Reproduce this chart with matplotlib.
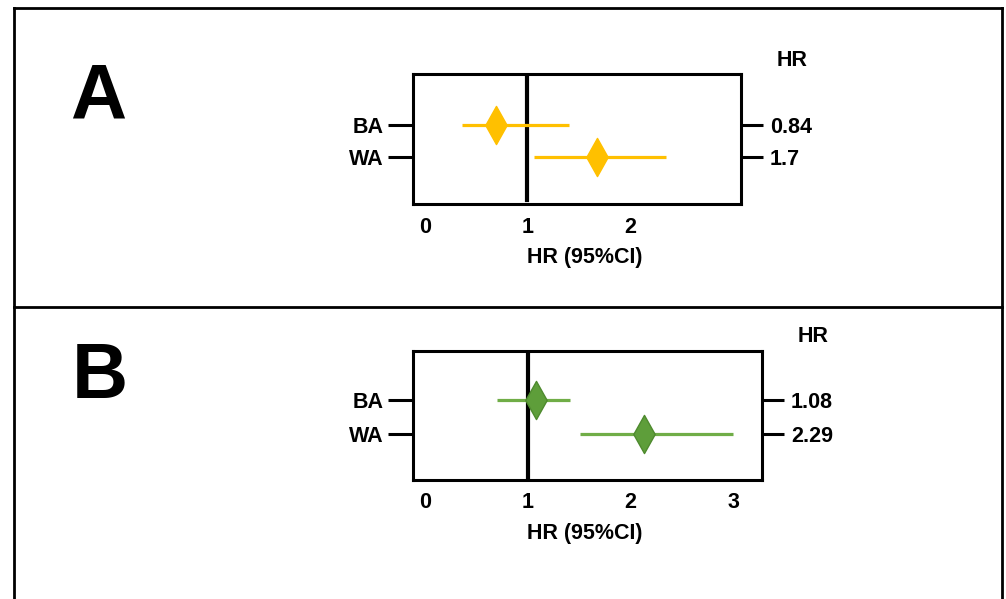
#Libraries importation:--------------------------------------------------------

import matplotlib
matplotlib.use("Agg")
import matplotlib.pyplot as plt
from matplotlib.lines import Line2D
from matplotlib.path import Path

#Data:-------------------------------------------------------------------------

groups = ["BA", "WA"]
x_ticks_a = [0, 1, 2]
x_ticks_b = [0, 1, 2, 3]

hr_a = [0.69, 1.68]
low_a = [0.36, 1.06]
high_a = [1.41, 2.35]
hr_text_a = ["0.84", "1.7"]

hr_b = [1.08, 2.13]
low_b = [0.70, 1.51]
high_b = [1.41, 3.00]
hr_text_b = ["1.08", "2.29"]

#Settings:---------------------------------------------------------------------

plt.rcParams["font.family"] = ["Liberation Sans", "DejaVu Sans"]
plt.rcParams["font.weight"] = "bold"

diamond = Path([(0, 1), (0.56, 0), (0, -1), (-0.56, 0), (0, 1)],
               [Path.MOVETO, Path.LINETO, Path.LINETO, Path.LINETO, Path.CLOSEPOLY])

fs = 15.5

#Function definition:----------------------------------------------------------

def forest_panel(fig, rect, xlim, ylim, xticks, hr, low, high, hr_text,
                 line_color, face_color, edge_color, ref_ymin, header_dy, label_x):

    ax = fig.add_axes(rect)
    y_pos = list(range(1, len(groups) + 1))

    ax.hlines(y_pos, low, high, color=line_color, linewidth=2.3, zorder=2)
    ax.plot(hr, y_pos, linestyle="none", marker=diamond, markersize=27.5,
            markerfacecolor=face_color, markeredgecolor=edge_color,
            markeredgewidth=1.0, zorder=3)
    ax.axvline(1, ymin=ref_ymin, ymax=1, color="black", linewidth=3, zorder=1)

    ax.set_xlim(xlim)
    ax.set_ylim(ylim)
    ax.set_xticks(xticks)
    ax.set_xticklabels([str(t) for t in xticks], fontsize=fs, fontweight="bold")
    ax.tick_params(axis="x", length=0, pad=9)
    ax.set_xlabel("HR (95%CI)", fontsize=fs, fontweight="bold", labelpad=6)
    ax.xaxis.set_label_coords(label_x, -0.33)

    ax.set_yticks(y_pos)
    ax.set_yticklabels(groups, fontsize=fs, fontweight="bold")
    ax.tick_params(axis="y", length=18, width=2.2, pad=3)

    for spine in ax.spines.values():
        spine.set_linewidth(2.2)

    ax_right = ax.twinx()
    ax_right.set_ylim(ylim)
    ax_right.set_yticks(y_pos)
    ax_right.set_yticklabels(hr_text, fontsize=fs, fontweight="bold")
    ax_right.tick_params(axis="y", length=16, width=2.2, pad=5)
    for spine in ax_right.spines.values():
        spine.set_visible(False)

    ax.annotate("HR", xy=(1, 1), xycoords="axes fraction",
                xytext=(37, header_dy), textcoords="offset points",
                ha="center", va="center", fontsize=fs, fontweight="bold")

    return ax

#Figure:-----------------------------------------------------------------------

fig = plt.figure(figsize=(10.06, 5.99), dpi=100)

#Outer frame and divider
frame_lines = [
    ([0.0139, 0.0139], [0.0, 0.9866]),
    ([0.9960, 0.9960], [0.0, 0.9866]),
    ([0.0139, 0.9960], [0.9866, 0.9866]),
    ([0.0139, 0.9960], [0.4875, 0.4875]),
]
for xs, ys in frame_lines:
    fig.add_artist(Line2D(xs, ys, transform=fig.transFigure, color="black", linewidth=2))

#Panel A
forest_panel(fig, [0.4105, 0.6594, 0.326, 0.217], (-0.117, 3.083), (3.47, -0.6),
             x_ticks_a, hr_a, low_a, high_a, hr_text_a,
             "#FFC000", "#FFC000", "#FFC000", 0.03, 9.5, 0.524)

#Panel B
forest_panel(fig, [0.4105, 0.1987, 0.3469, 0.2154], (-0.117, 3.28), (3.35, -0.44),
             x_ticks_b, hr_b, low_b, high_b, hr_text_b,
             "#70AD47", "#5E9E3A", "#4E8A2E", 0.0, 10.5, 0.493)

fig.text(0.098, 0.836, "A", fontsize=56, fontweight="bold", ha="center", va="center")
fig.text(0.099, 0.369, "B", fontsize=56, fontweight="bold", ha="center", va="center")

fig.savefig("out.png", dpi=100)
